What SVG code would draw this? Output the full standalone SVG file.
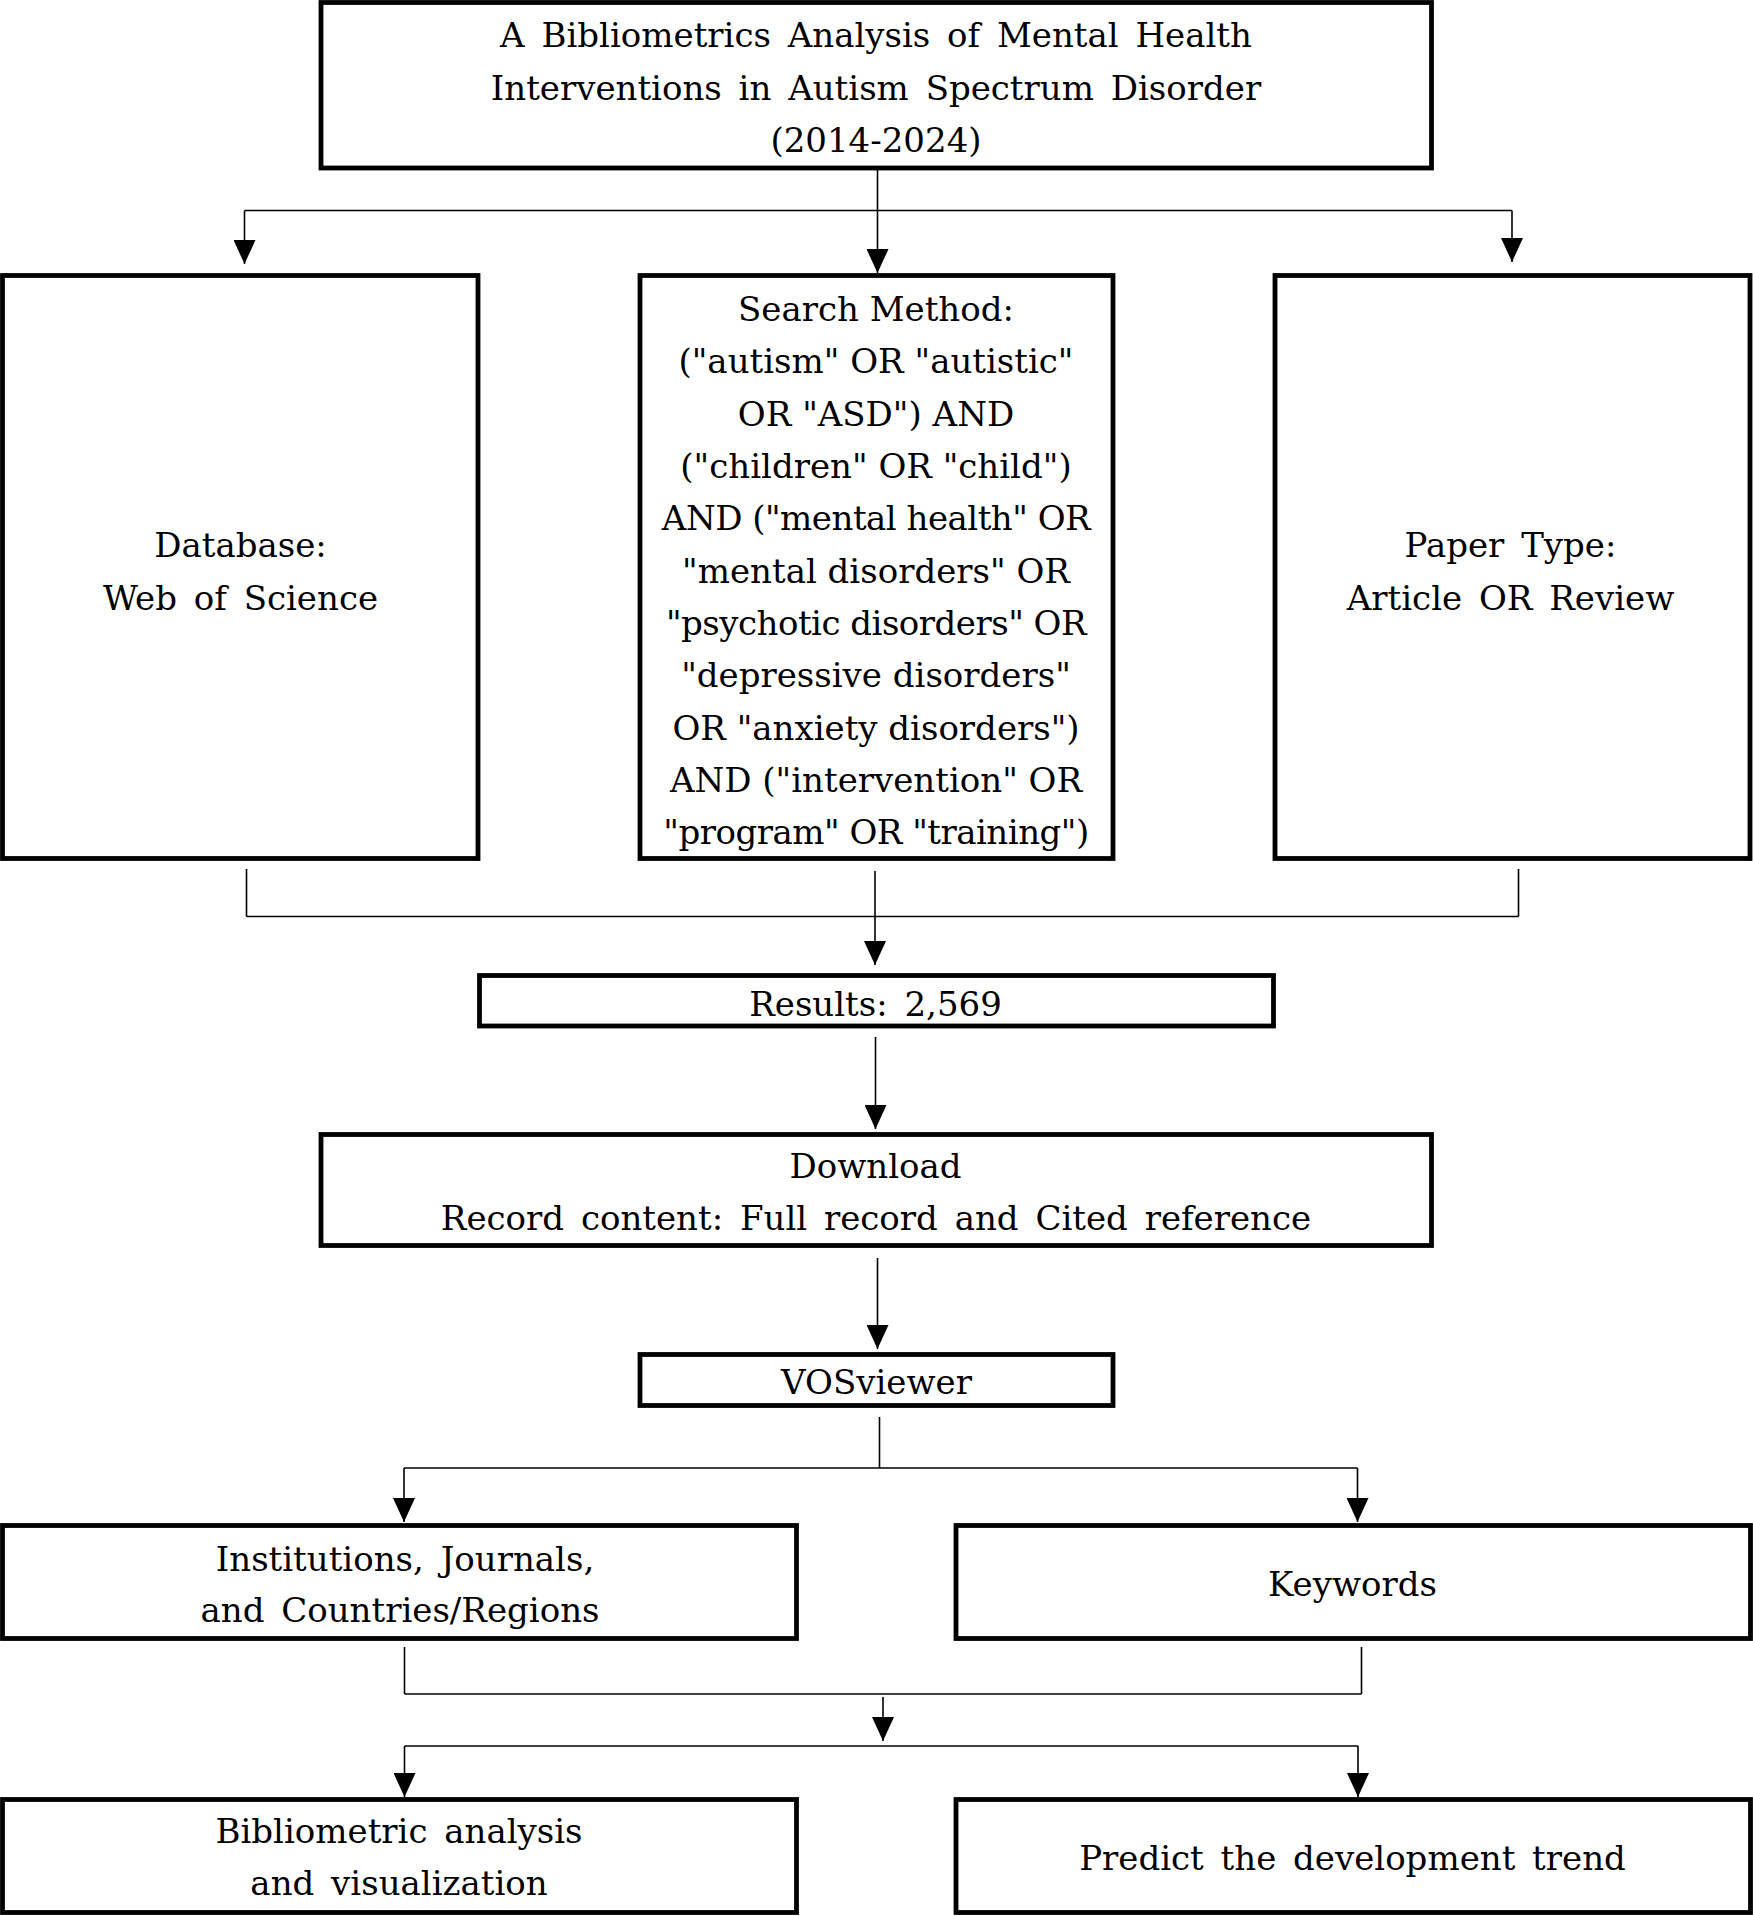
<svg xmlns="http://www.w3.org/2000/svg" width="1753" height="1916" viewBox="0 0 1753 1916">
<style>
.box{fill:#fff;stroke:#000;stroke-width:4.8}
.t{font-family:"DejaVu Serif","Liberation Serif",serif;font-size:34px;fill:#000;text-anchor:middle;word-spacing:6px}
.q{word-spacing:0px}
.n{letter-spacing:-0.5px}
.c{fill:none;stroke:#000;stroke-width:1.6}
.a{fill:none;stroke:#000;stroke-width:1.6;marker-end:url(#ah)}
</style>
<defs>
<marker id="ah" markerUnits="userSpaceOnUse" viewBox="0 0 24 22" markerWidth="24" markerHeight="22" refX="24" refY="11" orient="auto">
<path d="M0,0 L24,11 L0,22 Z" fill="#000"/>
</marker>
</defs>
<rect width="1753" height="1916" fill="#fff"/>

<g id="connectors">
<line class="c" x1="877.5" y1="168" x2="877.5" y2="210.5"/>
<line class="c" x1="244.5" y1="210.5" x2="1512" y2="210.5"/>
<line class="a" x1="877.5" y1="210.5" x2="877.5" y2="273"/>
<line class="a" x1="244.5" y1="210.5" x2="244.5" y2="264"/>
<line class="a" x1="1512" y1="210.5" x2="1512" y2="262"/>

<line class="c" x1="246.5" y1="869" x2="246.5" y2="916.5"/>
<line class="c" x1="1518.5" y1="869" x2="1518.5" y2="916.5"/>
<line class="c" x1="246.5" y1="916.5" x2="1518.5" y2="916.5"/>
<line class="a" x1="875" y1="871" x2="875" y2="965"/>

<line class="a" x1="875.5" y1="1037" x2="875.5" y2="1129"/>
<line class="a" x1="877.5" y1="1258" x2="877.5" y2="1349"/>

<line class="c" x1="879.5" y1="1417" x2="879.5" y2="1468"/>
<line class="c" x1="404" y1="1468" x2="1357.5" y2="1468"/>
<line class="a" x1="404" y1="1468" x2="404" y2="1522"/>
<line class="a" x1="1357.5" y1="1468" x2="1357.5" y2="1522"/>

<line class="c" x1="404.5" y1="1647" x2="404.5" y2="1694"/>
<line class="c" x1="1361.5" y1="1647" x2="1361.5" y2="1694"/>
<line class="c" x1="404.5" y1="1694" x2="1361.5" y2="1694"/>
<line class="a" x1="883" y1="1697" x2="883" y2="1741"/>

<line class="c" x1="404.5" y1="1746" x2="1358" y2="1746"/>
<line class="a" x1="404.5" y1="1746" x2="404.5" y2="1797"/>
<line class="a" x1="1358" y1="1746" x2="1358" y2="1797"/>
</g>

<g id="title">
<rect class="box" x="321" y="2.5" width="1110.5" height="165.5"/>
<text class="t" x="876" y="47">A Bibliometrics Analysis of Mental Health</text>
<text class="t" x="876" y="100">Interventions in Autism Spectrum Disorder</text>
<text class="t" x="876" y="152">(2014-2024)</text>
</g>

<g id="database">
<rect class="box" x="2.5" y="275.5" width="475.5" height="583"/>
<text class="t" x="240.5" y="557">Database:</text>
<text class="t" x="240.5" y="609.5">Web of Science</text>
</g>

<g id="search">
<rect class="box" x="640" y="275.5" width="473" height="583"/>
<text class="t q" x="876" y="321">Search Method:</text>
<text class="t q" x="876" y="373.3">("autism" OR "autistic"</text>
<text class="t q" x="876" y="425.6">OR "ASD") AND</text>
<text class="t q" x="876" y="478">("children" OR "child")</text>
<text class="t q n" x="876" y="530.3">AND ("mental health" OR</text>
<text class="t q" x="876" y="582.6">"mental disorders" OR</text>
<text class="t q n" x="876" y="635">"psychotic disorders" OR</text>
<text class="t q" x="876" y="687.3">"depressive disorders"</text>
<text class="t q" x="876" y="739.6">OR "anxiety disorders")</text>
<text class="t q" x="876" y="792">AND ("intervention" OR</text>
<text class="t q n" x="876" y="844.3">"program" OR "training")</text>
</g>

<g id="papertype">
<rect class="box" x="1275" y="275.5" width="475" height="583"/>
<text class="t" x="1510.5" y="557">Paper Type:</text>
<text class="t" x="1510.5" y="609.5">Article OR Review</text>
</g>

<g id="results">
<rect class="box" x="479.5" y="975.5" width="794" height="50.5"/>
<text class="t" x="875.5" y="1016">Results: 2,569</text>
</g>

<g id="download">
<rect class="box" x="321" y="1134.5" width="1110.5" height="111"/>
<text class="t" x="875.5" y="1178">Download</text>
<text class="t" x="876" y="1229.5">Record content: Full record and Cited reference</text>
</g>

<g id="vosviewer">
<rect class="box" x="640" y="1354.5" width="473" height="51"/>
<text class="t" x="876.5" y="1394">VOSviewer</text>
</g>

<g id="institutions">
<rect class="box" x="2.5" y="1525.5" width="794" height="113"/>
<text class="t" x="405" y="1571">Institutions, Journals,</text>
<text class="t" x="400" y="1622">and Countries/Regions</text>
</g>

<g id="keywords">
<rect class="box" x="956" y="1525.5" width="794.5" height="113"/>
<text class="t" x="1352.5" y="1596">Keywords</text>
</g>

<g id="bibliometric">
<rect class="box" x="2.5" y="1799.5" width="794" height="113"/>
<text class="t" x="399" y="1843">Bibliometric analysis</text>
<text class="t" x="399" y="1895">and visualization</text>
</g>

<g id="predict">
<rect class="box" x="956" y="1799.5" width="794.5" height="113"/>
<text class="t" x="1352.5" y="1870">Predict the development trend</text>
</g>
</svg>
